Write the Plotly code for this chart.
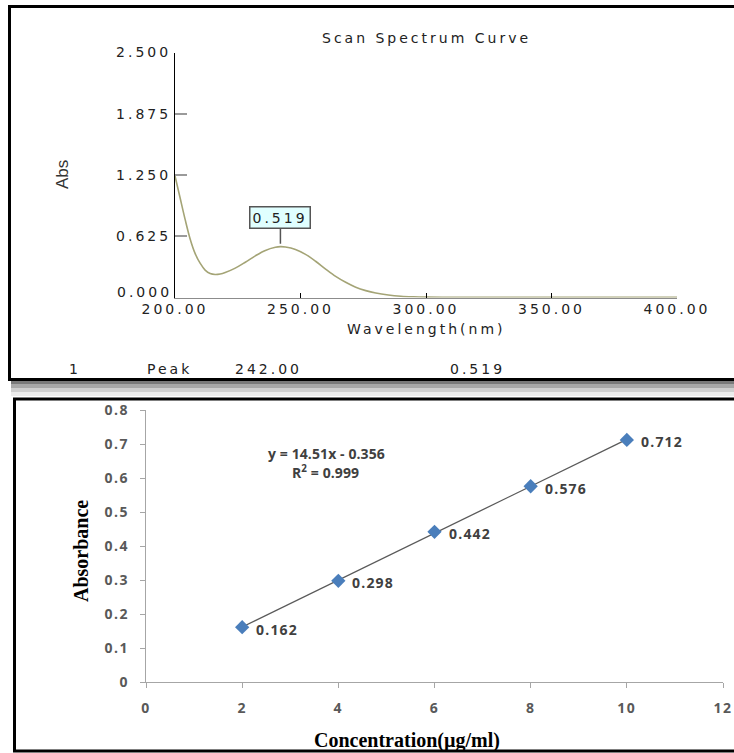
import numpy as np
import plotly.graph_objects as go

W, H = 734, 753

# ---- UV scan of the sample (200-400 nm) ----
wavelength_nm = [200, 202, 204, 206, 208, 210, 212, 214, 216, 218, 220, 224, 228,
                 232, 236, 240, 242, 244, 248, 252, 256, 260, 264, 268, 272, 276,
                 280, 285, 290, 295, 300, 310, 320, 340, 360, 380, 400]
absorbance_scan = [1.24, 1.02, 0.80, 0.60, 0.45, 0.35, 0.28, 0.245, 0.235, 0.24,
                   0.255, 0.30, 0.36, 0.425, 0.48, 0.512, 0.519, 0.515, 0.49, 0.44,
                   0.37, 0.29, 0.215, 0.155, 0.105, 0.07, 0.045, 0.025, 0.013,
                   0.007, 0.004, 0.002, 0.001, 0.001, 0.001, 0.001, 0.001]
peak_no = 1
peak_wavelength = 242.00
peak_abs = 0.519

spec_xticks = [200, 250, 300, 350, 400]
spec_yticks = [0.0, 0.625, 1.25, 1.875, 2.5]

# ---- Calibration standards ----
concentration = [2, 4, 6, 8, 10]
absorbance_std = [0.162, 0.298, 0.442, 0.576, 0.712]
equation_text = "y = 14.51x - 0.356"
r2_value = "0.999"

cal_xticks = [0, 2, 4, 6, 8, 10, 12]
cal_yticks = [0, 0.1, 0.2, 0.3, 0.4, 0.5, 0.6, 0.7, 0.8]


def px(x):
    return x / W


def py(y):
    return 1 - y / H


def wide(text, sp=3.0):
    return f"<span style='letter-spacing:{sp}px'>{text}</span>"


def label(x, y, text, font, **kw):
    """Free text placed in figure pixels, centred on (x, y)."""
    d = dict(x=px(x), y=py(y), xref="paper", yref="paper", text=text,
             showarrow=False, xanchor="center", yanchor="middle", font=font)
    d.update(kw)
    return d


SPEC_FONT = dict(family="DejaVu Sans", size=14, color="#222222")
CAL_FONT = dict(family="Open Sans", size=14, color="#595959", weight="bold")
EQ_FONT = dict(family="Open Sans", size=14, color="#404040", weight="bold")

fig = go.Figure()

# spectrum curve
fig.add_trace(go.Scatter(
    x=wavelength_nm, y=absorbance_scan, mode="lines",
    line=dict(color="#a4a476", width=1.6, shape="spline"),
    xaxis="x", yaxis="y", hoverinfo="skip", showlegend=False))

# linear trendline over the standards
slope, intercept = np.polyfit(concentration, absorbance_std, 1)
tx = [min(concentration), max(concentration)]
ty = [slope * v + intercept for v in tx]
fig.add_trace(go.Scatter(
    x=tx, y=ty, mode="lines", line=dict(color="#5a5a5a", width=1.3),
    xaxis="x2", yaxis="y2", hoverinfo="skip", showlegend=False))

# calibration points
fig.add_trace(go.Scatter(
    x=concentration, y=absorbance_std, mode="markers",
    marker=dict(symbol="diamond", size=11, color="#4a7ebb", line=dict(width=0)),
    xaxis="x2", yaxis="y2", showlegend=False))

annotations = []

# peak callout
annotations.append(dict(
    x=peak_wavelength, y=peak_abs, xref="x", yref="y",
    text=wide(f"{peak_abs:.3f}"), showarrow=True, arrowhead=0, ax=0, ay=-29,
    arrowcolor="#555555", arrowwidth=1.5, standoff=3,
    bgcolor="#e0ffff", bordercolor="#555555", borderwidth=1.5, borderpad=2,
    font=SPEC_FONT))

# spectrum titles
annotations.append(label(426, 38, wide("Scan Spectrum Curve"), SPEC_FONT))
annotations.append(label(426, 329, wide("Wavelength(nm)"), SPEC_FONT))
annotations.append(label(62, 175, "Abs",
                         dict(family="Liberation Sans Narrow, Liberation Sans",
                              size=17, color="#333333"), textangle=-90))

# the zero label of the absorbance scale sits a little above its tick
annotations.append(dict(x=px(174), y=spec_yticks[0], xref="paper", yref="y",
                        xanchor="right", yanchor="middle",
                        text=wide(f"{spec_yticks[0]:.3f}"), showarrow=False,
                        yshift=5, font=SPEC_FONT))

# peak table row
for xpos, txt in [(75, f"{peak_no}"), (169, "Peak"), (268, f"{peak_wavelength:.2f}"),
                  (478, f"{peak_abs:.3f}")]:
    annotations.append(label(xpos, 369, wide(txt), SPEC_FONT))

# calibration data labels
for c, a in zip(concentration, absorbance_std):
    annotations.append(dict(x=c, y=a, xref="x2", yref="y2", xanchor="left",
                            yanchor="middle", xshift=12, yshift=-2,
                            text=wide(f"{a:.3f}", 1.2), showarrow=False,
                            font=dict(family="Open Sans", size=14, color="#404040",
                                      weight="bold")))

# regression equation
annotations.append(label(326, 453, wide(equation_text, 0.1), EQ_FONT))
annotations.append(label(325, 472, wide(f"R<sup>2</sup> = {r2_value}", 0.1), EQ_FONT))

# calibration axis titles
annotations.append(label(81, 551, "<b>Absorbance</b>",
                         dict(family="Liberation Serif", size=20, color="#000000"),
                         textangle=-90))
annotations.append(label(407, 740, "<b>Concentration(µg/ml)</b>",
                         dict(family="Liberation Serif", size=20, color="#000000")))

# panel frames and drop shadow
shapes = []
for y0, y1, col in [(381, 384, "#7a7a7a"), (384, 388, "#a8a8a8"),
                    (388, 392, "#cfcfcf"), (392, 396, "#ececec")]:
    shapes.append(dict(type="rect", xref="paper", yref="paper",
                       x0=px(11), x1=px(740), y0=py(y1), y1=py(y0),
                       fillcolor=col, line=dict(width=0), layer="below"))
shapes.append(dict(type="rect", xref="paper", yref="paper",
                   x0=px(9.5), x1=px(745), y0=py(379.5), y1=py(6.5),
                   line=dict(color="#000000", width=3), fillcolor="rgba(0,0,0,0)"))
shapes.append(dict(type="rect", xref="paper", yref="paper",
                   x0=px(14.5), x1=px(745), y0=py(751), y1=py(399),
                   line=dict(color="#000000", width=3), fillcolor="rgba(0,0,0,0)"))

common = dict(automargin=False, showgrid=False, zeroline=False, fixedrange=True,
              tickmode="array", showline=True)

fig.update_layout(
    width=W, height=H, autosize=False,
    margin=dict(l=0, r=0, t=0, b=0, pad=0, autoexpand=False),
    paper_bgcolor="#ffffff", plot_bgcolor="#ffffff",
    showlegend=False,
    xaxis=dict(domain=[px(175), px(677)], range=[200, 400], anchor="y",
               tickvals=spec_xticks,
               ticktext=[wide(f"{v:.2f}") for v in spec_xticks],
               ticks="inside", ticklen=5, tickcolor="#000000", tickwidth=1,
               linecolor="#8c8c8c", linewidth=1, tickfont=SPEC_FONT,
               ticklabelstandoff=-1, **common),
    yaxis=dict(domain=[py(297.5), py(52.5)], range=[0, 2.5], anchor="x",
               tickvals=spec_yticks,
               ticktext=[""] + [wide(f"{v:.3f}") for v in spec_yticks[1:]],
               ticks="inside", ticklen=12, tickcolor="#9a9a9a", tickwidth=1.5,
               linecolor="#000000", linewidth=1, tickfont=SPEC_FONT, **common),
    xaxis2=dict(domain=[px(146), px(723)], range=[0, 12], anchor="y2",
                tickvals=cal_xticks,
                ticktext=[wide(str(v), 1.5) for v in cal_xticks],
                ticks="outside", ticklen=5, tickcolor="#a6a6a6", tickwidth=1.3,
                linecolor="#a6a6a6", linewidth=1.3, tickfont=CAL_FONT,
                ticklabelstandoff=8, **common),
    yaxis2=dict(domain=[py(682.3), py(410)], range=[0, 0.8], anchor="x2",
                tickvals=cal_yticks,
                ticktext=[wide(f"{v:g}", 1.5) for v in cal_yticks],
                ticks="outside", ticklen=5, tickcolor="#a6a6a6", tickwidth=1.3,
                linecolor="#a6a6a6", linewidth=1.3, tickfont=CAL_FONT,
                ticklabelstandoff=8, **common),
    annotations=annotations,
    shapes=shapes,
)

fig.write_html("out.html")
